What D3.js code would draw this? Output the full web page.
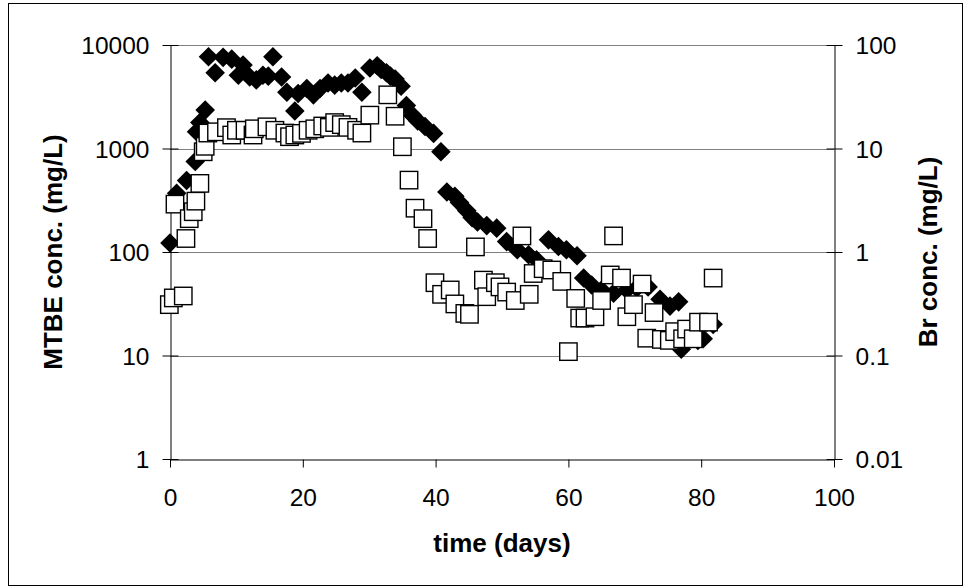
<!DOCTYPE html>
<html>
<head>
<meta charset="utf-8">
<script src="https://cdn.jsdelivr.net/npm/d3@7/dist/d3.min.js"></script>
<style>
  html, body { margin: 0; padding: 0; background: #fff; }
  svg { display: block; font-family: "Liberation Sans", Arial, sans-serif; }
</style>
</head>
<body>
<svg id="chart" width="964" height="588"></svg>
<script>
// ---- data ----
// MTBE concentration (mg/L), black diamonds: [day, value]
const mtbeDays = [0, 1.0, 2.5, 3.8, 4.0, 4.5, 5.3, 5.8, 6.8, 8.0, 9.3, 10.3, 11.0, 12.0, 13.0, 14.0, 14.8, 15.5,
  16.8, 17.6, 18.8, 19.3, 20.6, 21.6, 22.6, 23.8, 24.8, 25.8, 26.8, 27.9, 28.9, 30.1, 31.2, 31.8, 32.6, 33.2, 33.9,
  34.8, 35.6, 36.5, 37.3, 38.4, 39.7, 40.8, 41.7, 42.9, 43.6, 44.7, 45.5, 46.3, 47.7, 49.2, 50.7, 52.3, 54.0, 55.2,
  57.0, 58.5, 59.7, 61.3, 62.3, 63.5, 65.0, 66.8, 68.8, 70.3, 72.0, 73.8, 75.3, 76.6, 77.0, 79.5, 80.3, 81.8];
const mtbeValues = [122, 370, 490, 750, 1450, 1780, 2350, 7700, 5400, 7600, 7300, 5100, 6400, 4900, 4600, 5100, 5000, 7700,
  4900, 3500, 2300, 3400, 3800, 3300, 3800, 4300, 4100, 4300, 4300, 4800, 3500, 6000, 6300, 5800, 5400, 5000, 4700,
  4000, 2600, 2100, 1850, 1630, 1400, 930, 380, 345, 300, 250, 215, 195, 180, 170, 126, 105, 94, 84,
  131, 113, 105, 92, 56, 48, 43, 40, 43, 45, 46, 35, 30, 33, 11.5, 14, 14.5, 20];

// Br concentration (mg/L), open squares
const brDays = [-0.1, 0.5, 2.0, 0.75, 2.4, 2.9, 3.5, 3.9, 4.5, 5.0, 5.3, 5.7, 7.0, 8.5, 9.3, 10.0, 11.3, 12.5, 12.7,
  14.6, 15.8, 17.3, 18.0, 18.8, 19.8, 20.8, 21.8, 23.0, 24.0, 24.8, 25.8, 26.8, 28.1, 28.9, 30.1, 32.8, 33.9, 35.0,
  36.0, 36.9, 38.1, 38.8, 39.9, 40.9, 42.2, 42.9, 44.4, 45.1, 46.0, 47.2, 47.7, 49.0, 49.7, 50.7, 52.0, 53.0, 54.1,
  54.7, 56.2, 57.5, 59.0, 60.0, 61.1, 61.7, 62.5, 64.0, 65.0, 66.3, 66.8, 68.0, 68.8, 69.8, 71.1, 71.8, 72.9, 74.0,
  75.2, 76.0, 77.2, 77.8, 78.8, 79.6, 81.1, 81.8];
const brValues = [0.31, 0.36, 0.376, 2.9, 1.35, 2.1, 2.45, 3.1, 4.6, 9.3, 10.5, 14.1, 14.5, 15.9, 13.5, 15, 15, 13.5, 15.5,
  16.2, 15, 14.1, 13, 13.5, 14, 15, 15.5, 16.5, 16, 17.8, 17, 16, 15, 14.1, 21, 33, 20.5, 10.4,
  4.95, 2.65, 2.1, 1.35, 0.505, 0.39, 0.43, 0.315, 0.255, 0.25, 1.12, 0.535, 0.37, 0.505, 0.46, 0.41, 0.34, 1.43, 0.39,
  0.62, 0.69, 0.67, 0.52, 0.109, 0.356, 0.23, 0.23, 0.237, 0.34, 0.6, 1.43, 0.56, 0.237, 0.31, 0.49, 0.147, 0.26, 0.143,
  0.14, 0.17, 0.145, 0.18, 0.145, 0.21, 0.21, 0.56];

const xTicks = [0, 20, 40, 60, 80, 100];
const yLeftTicks = [1, 10, 100, 1000, 10000];
const yLeftLabels = ["1", "10", "100", "1000", "10000"];
const yRightTicks = [0.01, 0.1, 1, 10, 100];
const yRightLabels = ["0.01", "0.1", "1", "10", "100"];

const xTitle = "time (days)";
const yLeftTitle = "MTBE conc. (mg/L)";
const yRightTitle = "Br conc. (mg/L)";

// ---- layout ----
const W = 964, H = 588;
const L = 170, R = 834, T = 45, B = 459;

const svg = d3.select("#chart");

svg.append("rect")
  .attr("x", 8.5).attr("y", 3.5)
  .attr("width", 954).attr("height", 582)
  .attr("fill", "#fff").attr("stroke", "#000").attr("stroke-width", 1);

const x = d3.scaleLinear().domain([0, 100]).range([L, R]);
const yL = d3.scaleLog().domain([1, 10000]).range([B, T]);
const yR = d3.scaleLog().domain([0.01, 100]).range([B, T]);

// gridlines
svg.append("g")
  .selectAll("line")
  .data(yLeftTicks.slice(1))
  .join("line")
  .attr("x1", L).attr("x2", R)
  .attr("y1", d => Math.round(yL(d)) + 0.5)
  .attr("y2", d => Math.round(yL(d)) + 0.5)
  .attr("stroke", "#808080").attr("stroke-width", 1);

const tickFont = "24.5px";

// bottom axis
const gx = svg.append("g")
  .attr("transform", `translate(0,${B + 0.5})`)
  .call(d3.axisBottom(x).tickValues(xTicks).tickSize(8).tickSizeOuter(0).tickFormat(d3.format("d")));
gx.select(".domain").attr("stroke", "#000");
gx.selectAll(".tick line").attr("stroke", "#000");
gx.selectAll(".tick text")
  .attr("y", 46).attr("dy", 0)
  .attr("fill", "#000")
  .style("font-size", tickFont)
  .style("font-family", '"Liberation Sans", Arial, sans-serif');

// left axis
const gl = svg.append("g")
  .attr("transform", `translate(${L + 0.5},0)`)
  .call(d3.axisLeft(yL).tickValues(yLeftTicks).tickSize(8).tickSizeOuter(0)
    .tickFormat((d, i) => yLeftLabels[i]));
gl.select(".domain").attr("stroke", "#000");
gl.selectAll(".tick line").attr("x1", -8).attr("x2", 8).attr("stroke", "#000");
gl.selectAll(".tick text")
  .attr("x", -21).attr("dy", "0.35em")
  .attr("fill", "#000")
  .style("font-size", tickFont)
  .style("font-family", '"Liberation Sans", Arial, sans-serif');

// right axis
const gr = svg.append("g")
  .attr("transform", `translate(${R + 0.5},0)`)
  .call(d3.axisRight(yR).tickValues(yRightTicks).tickSize(8).tickSizeOuter(0)
    .tickFormat((d, i) => yRightLabels[i]));
gr.select(".domain").attr("stroke", "#000");
gr.selectAll(".tick line").attr("x1", -8).attr("x2", 8).attr("stroke", "#000");
gr.selectAll(".tick text")
  .attr("x", 21).attr("dy", "0.35em")
  .attr("fill", "#000")
  .style("font-size", tickFont)
  .style("font-family", '"Liberation Sans", Arial, sans-serif');

// titles
svg.append("text")
  .attr("x", (L + R) / 2).attr("y", 552)
  .attr("text-anchor", "middle")
  .style("font-size", "26px").style("font-weight", "bold")
  .text(xTitle);

svg.append("text")
  .attr("transform", `translate(62,${(T + B) / 2}) rotate(-90)`)
  .attr("text-anchor", "middle")
  .style("font-size", "26px").style("font-weight", "bold")
  .text(yLeftTitle);

svg.append("text")
  .attr("transform", `translate(937,${(T + B) / 2}) rotate(-90)`)
  .attr("text-anchor", "middle")
  .style("font-size", "26px").style("font-weight", "bold")
  .text(yRightTitle);

// markers
const mtbe = mtbeDays.map((d, i) => ({ day: d, v: mtbeValues[i] }));
const br = brDays.map((d, i) => ({ day: d, v: brValues[i] }));

const dh = 9.8; // diamond half-diagonal
svg.append("g")
  .selectAll("path")
  .data(mtbe)
  .join("path")
  .attr("transform", d => `translate(${x(d.day)},${yL(d.v)})`)
  .attr("d", `M0,${-dh}L${dh},0L0,${dh}L${-dh},0Z`)
  .attr("fill", "#000");

const sq = 17.4;
svg.append("g")
  .selectAll("rect")
  .data(br)
  .join("rect")
  .attr("x", d => x(d.day) - sq / 2)
  .attr("y", d => yR(d.v) - sq / 2)
  .attr("width", sq).attr("height", sq)
  .attr("fill", "#fff").attr("stroke", "#000").attr("stroke-width", 1.4);
</script>
</body>
</html>
